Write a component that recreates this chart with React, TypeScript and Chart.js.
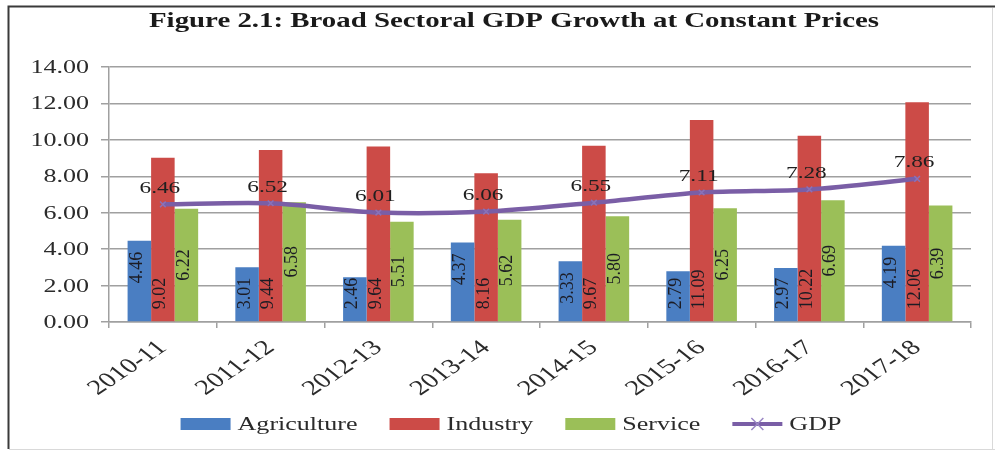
import React, { useEffect, useRef } from "react";
import { Chart, registerables } from "chart.js";

Chart.register(...registerables);

const categories = ["2010-11", "2011-12", "2012-13", "2013-14", "2014-15", "2015-16", "2016-17", "2017-18"];
const agriculture = [4.46, 3.01, 2.46, 4.37, 3.33, 2.79, 2.97, 4.19];
const industry = [9.02, 9.44, 9.64, 8.16, 9.67, 11.09, 10.22, 12.06];
const service = [6.22, 6.58, 5.51, 5.62, 5.8, 6.25, 6.69, 6.39];
const gdp = [6.46, 6.52, 6.01, 6.06, 6.55, 7.11, 7.28, 7.86];
const yTicks = [0, 2, 4, 6, 8, 10, 12, 14];
const seriesNames = ["Agriculture", "Industry", "Service", "GDP"];
const titleText = "Figure 2.1: Broad Sectoral GDP Growth at Constant Prices";

const COLORS = ["#4A7EC2", "#CC4B47", "#9BBF58", "#7A5EA6"];
const SERIF = '"Liberation Serif", "Times New Roman", serif';
const S = 1.37;
const GRID = "#a0a0a0";

function stretchedText(
  ctx: CanvasRenderingContext2D,
  text: string,
  x: number,
  y: number,
  align: "left" | "center" | "right",
  font: string,
  color: string,
  sx: number
) {
  ctx.save();
  ctx.font = font;
  ctx.fillStyle = color;
  ctx.textBaseline = "middle";
  ctx.textAlign = "left";
  const w = ctx.measureText(text).width * sx;
  const left = align === "center" ? x - w / 2 : align === "right" ? x - w : x;
  ctx.translate(left, y);
  ctx.scale(sx, 1);
  ctx.fillText(text, 0, 0);
  ctx.restore();
  return w;
}

const customPlugin = {
  id: "customDecor",
  beforeDraw(chart: any) {
    const ctx = chart.ctx as CanvasRenderingContext2D;
    ctx.save();
    ctx.fillStyle = "#ffffff";
    ctx.fillRect(0, 0, chart.width, chart.height);
    ctx.restore();
  },
  afterDraw(chart: any) {
    const ctx = chart.ctx as CanvasRenderingContext2D;
    const xScale = chart.scales.x;
    const yScale = chart.scales.y;

    // frame
    ctx.save();
    ctx.strokeStyle = "#3a3a3a";
    ctx.lineWidth = 2;
    ctx.beginPath();
    ctx.moveTo(8.5, 449);
    ctx.lineTo(8.5, 6.5);
    ctx.lineTo(995, 6.5);
    ctx.stroke();
    ctx.strokeStyle = "#d9d9d9";
    ctx.lineWidth = 1;
    ctx.beginPath();
    ctx.moveTo(9, 449.5);
    ctx.lineTo(995, 449.5);
    ctx.moveTo(992.5, 8);
    ctx.lineTo(992.5, 449);
    ctx.stroke();
    ctx.restore();

    // title
    ctx.save();
    const tFont = `bold 21px ${SERIF}`;
    ctx.font = tFont;
    const tw = ctx.measureText(titleText).width;
    const tsx = 730 / tw;
    ctx.fillStyle = "#1a1a1a";
    ctx.textBaseline = "alphabetic";
    ctx.translate(514 - 365, 27);
    ctx.scale(tsx, 1);
    ctx.fillText(titleText, 0, 0);
    ctx.restore();

    // y tick labels
    const tickFont = `19px ${SERIF}`;
    yTicks.forEach((v) => {
      const y = yScale.getPixelForValue(v);
      stretchedText(ctx, v.toFixed(2), 89, y + 1, "right", tickFont, "#2b2b2b", S);
    });

    // x tick labels (rotated, then stretched horizontally)
    const xFont = `21px ${SERIF}`;
    categories.forEach((c, i) => {
      const cx = xScale.getPixelForValue(i);
      ctx.save();
      ctx.font = xFont;
      ctx.fillStyle = "#2b2b2b";
      ctx.textAlign = "right";
      ctx.textBaseline = "middle";
      ctx.translate(cx, 345);
      ctx.scale(S, 1);
      ctx.rotate((-42 * Math.PI) / 180);
      ctx.fillText(c, 0, 0);
      ctx.restore();
    });

    // bar value labels (rotated -90)
    const barFont = `18px ${SERIF}`;
    [0, 1, 2].forEach((di) => {
      const meta = chart.getDatasetMeta(di);
      const values = chart.data.datasets[di].data as number[];
      meta.data.forEach((el: any, i: number) => {
        const txt = values[i].toFixed(2);
        ctx.save();
        ctx.font = barFont;
        const w = ctx.measureText(txt).width;
        const top = el.y;
        const base = el.base;
        let cy: number;
        if (di === 0) {
          const t = Math.min(top + 11, base - 12 - w);
          cy = t + w / 2;
        } else if (di === 1) {
          cy = base - 12 - w / 2;
        } else {
          cy = (top + base) / 2;
        }
        ctx.fillStyle = "#1c1c24";
        ctx.textAlign = "center";
        ctx.textBaseline = "alphabetic";
        ctx.translate(el.x + 2.5, cy);
        ctx.rotate(-Math.PI / 2);
        ctx.fillText(txt, 0, 0);
        ctx.restore();
      });
    });

    // GDP labels
    const lineMeta = chart.getDatasetMeta(3);
    const gdpFont = `17px ${SERIF}`;
    lineMeta.data.forEach((pt: any, i: number) => {
      stretchedText(ctx, gdp[i].toFixed(2), pt.x - 3, pt.y - 16, "center", gdpFont, "#1f1f1f", S);
    });

    // legend
    const legFont = `19px ${SERIF}`;
    ctx.save();
    ctx.font = legFont;
    const boxW = 50;
    const gapText = 7;
    const gapItem = 32;
    const widths = seriesNames.map((n) => ctx.measureText(n).width * S);
    const total =
      widths.reduce((a, b) => a + b, 0) + seriesNames.length * (boxW + gapText) + (seriesNames.length - 1) * gapItem;
    ctx.restore();
    let lx = 511 - total / 2;
    const ly = 424;
    seriesNames.forEach((n, i) => {
      ctx.save();
      if (i < 3) {
        ctx.fillStyle = COLORS[i];
        ctx.fillRect(lx, ly - 6, boxW, 12);
      } else {
        ctx.strokeStyle = COLORS[3];
        ctx.lineWidth = 4;
        ctx.beginPath();
        ctx.moveTo(lx, ly);
        ctx.lineTo(lx + boxW, ly);
        ctx.stroke();
        ctx.strokeStyle = "#9a86c4";
        ctx.lineWidth = 1.5;
        const mx = lx + boxW / 2;
        ctx.beginPath();
        ctx.moveTo(mx - 6, ly - 6);
        ctx.lineTo(mx + 6, ly + 6);
        ctx.moveTo(mx + 6, ly - 6);
        ctx.lineTo(mx - 6, ly + 6);
        ctx.stroke();
      }
      ctx.restore();
      stretchedText(ctx, n, lx + boxW + gapText, ly + 1, "left", legFont, "#2b2b2b", S);
      lx += boxW + gapText + widths[i] + gapItem;
    });
  },
};

export default function App() {
  const canvasRef = useRef<HTMLCanvasElement | null>(null);

  useEffect(() => {
    if (!canvasRef.current) return;
    const chart = new Chart(canvasRef.current, {
      type: "bar",
      data: {
        labels: categories,
        datasets: [
          {
            type: "bar",
            label: seriesNames[0],
            data: agriculture,
            backgroundColor: COLORS[0],
            categoryPercentage: 0.655,
            barPercentage: 1.0,
            order: 2,
          },
          {
            type: "bar",
            label: seriesNames[1],
            data: industry,
            backgroundColor: COLORS[1],
            categoryPercentage: 0.655,
            barPercentage: 1.0,
            order: 2,
          },
          {
            type: "bar",
            label: seriesNames[2],
            data: service,
            backgroundColor: COLORS[2],
            categoryPercentage: 0.655,
            barPercentage: 1.0,
            order: 2,
          },
          {
            type: "line",
            label: seriesNames[3],
            data: gdp,
            borderColor: COLORS[3],
            backgroundColor: COLORS[3],
            borderWidth: 4.5,
            tension: 0.3,
            pointStyle: "crossRot",
            pointRadius: 4,
            pointBorderWidth: 1.5,
            pointBorderColor: "#8a72b8",
            fill: false,
            order: 0,
          } as any,
        ],
      },
      options: {
        responsive: false,
        animation: false,
        events: [],
        layout: { padding: { left: 0, top: 67, right: 24, bottom: 0 } },
        plugins: {
          legend: { display: false },
          title: { display: false },
          tooltip: { enabled: false },
        },
        scales: {
          x: {
            type: "category",
            offset: true,
            ticks: { display: false },
            grid: {
              display: true,
              drawOnChartArea: false,
              drawTicks: true,
              tickLength: 6,
              color: GRID,
              lineWidth: 1.5,
              offset: true,
            },
            border: { display: true, color: GRID, width: 1.5 },
            afterFit: (s: any) => {
              s.height = 129;
            },
          },
          y: {
            min: 0,
            max: 14,
            ticks: { display: false, stepSize: 2 },
            grid: {
              color: GRID,
              lineWidth: 1.5,
              drawTicks: true,
              tickLength: 8,
            },
            border: { display: true, color: GRID, width: 1.5 },
            afterFit: (s: any) => {
              s.width = 109;
            },
          },
        },
      },
      plugins: [customPlugin],
    });
    return () => chart.destroy();
  }, []);

  return (
    <div style={{ position: "fixed", left: 0, top: 0, width: 995, height: 451, background: "#fff" }}>
      <canvas ref={canvasRef} width={995} height={451} style={{ display: "block", width: 995, height: 451 }} />
    </div>
  );
}
